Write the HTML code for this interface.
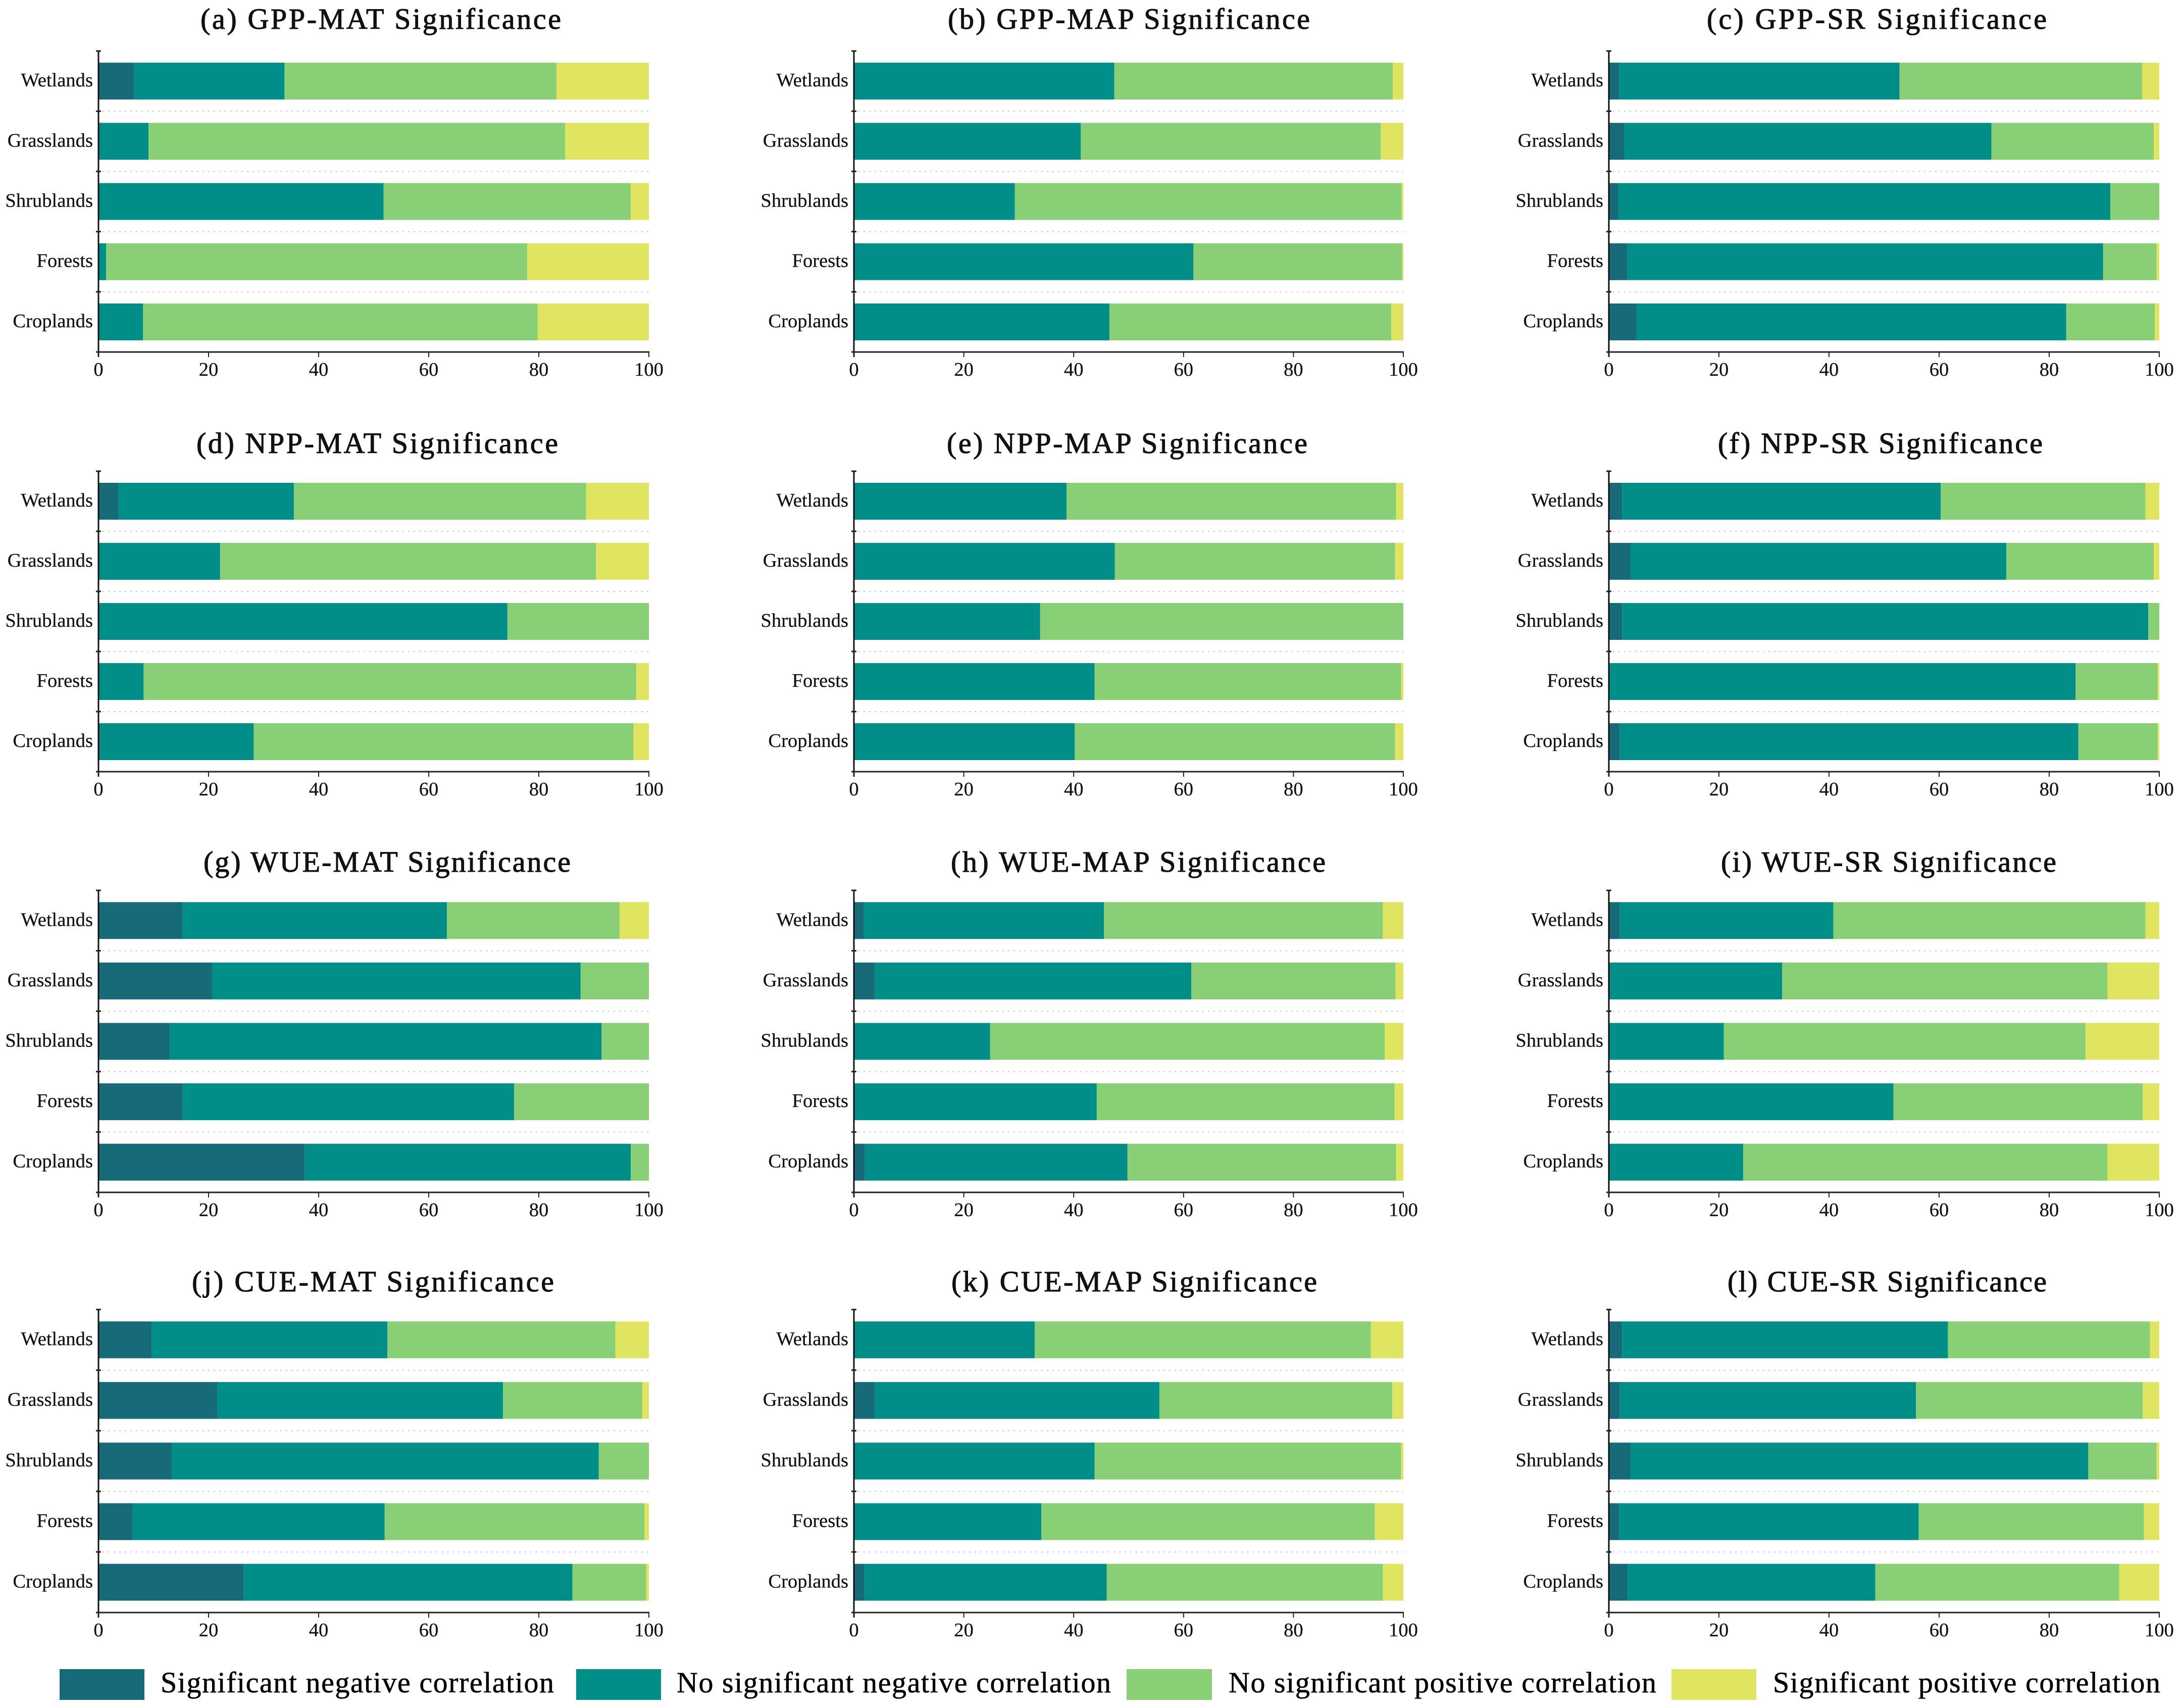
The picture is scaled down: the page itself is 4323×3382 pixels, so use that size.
<!DOCTYPE html>
<html lang="en">
<head>
<meta charset="utf-8">
<title>Significance of correlations by land cover</title>
<style>
html,body{margin:0;padding:0;background:#fff;}
svg{display:block;}
text{font-family:"Liberation Serif",serif;fill:#111;}
.title{font-size:58px;stroke:#111;stroke-width:1.1px;}
.tick{font-size:38.6px;stroke:#111;stroke-width:.25px;}
.legend-text{font-size:58px;fill:#000;stroke:#000;stroke-width:.6px;}
</style>
</head>
<body>
<svg id="figure" xmlns="http://www.w3.org/2000/svg" width="4323" height="3382" viewBox="0 0 4323 3382">
  <rect x="0" y="0" width="4323" height="3382" fill="#ffffff"/>
  <g id="panels"></g>
  <g>
    <g>
      <rect x="118" y="3305" width="168" height="61" fill="#176a78"/>
      <text class="legend-text" x="318" y="3351" textLength="779">Significant negative correlation</text>
    </g>
    <g>
      <rect x="1141" y="3305" width="168" height="61" fill="#028e88"/>
      <text class="legend-text" x="1340" y="3351" textLength="860">No significant negative correlation</text>
    </g>
    <g>
      <rect x="2231" y="3305" width="169" height="61" fill="#89cf75"/>
      <text class="legend-text" x="2433" y="3351" textLength="847">No significant positive correlation</text>
    </g>
    <g>
      <rect x="3310" y="3305" width="168" height="61" fill="#dfe560"/>
      <text class="legend-text" x="3511" y="3351" textLength="767">Significant positive correlation</text>
    </g>
  </g>
</svg>
<script>
// Data: order of categories is top to bottom in each panel
const categories = ["Wetlands", "Grasslands", "Shrublands", "Forests", "Croplands"];
const xTickLabels = [0, 20, 40, 60, 80, 100];
const panelTitles = [
  "(a) GPP-MAT Significance", "(b) GPP-MAP Significance", "(c) GPP-SR Significance",
  "(d) NPP-MAT Significance", "(e) NPP-MAP Significance", "(f) NPP-SR Significance",
  "(g) WUE-MAT Significance", "(h) WUE-MAP Significance", "(i) WUE-SR Significance",
  "(j) CUE-MAT Significance", "(k) CUE-MAP Significance", "(l) CUE-SR Significance"
];
const significantNegative = [
  [6.5,0,0,0,0], [0,0,0,0,0], [1.9,2.8,1.7,3.3,5.0],
  [3.7,0,0,0,0.3], [0,0.3,0,0,0], [2.4,3.9,2.4,0,2.0],
  [15.3,20.6,13.0,15.3,37.5], [1.8,3.8,0,0,2.0], [2.0,0.3,0,0,0],
  [9.7,21.6,13.3,6.2,26.4], [0,3.8,0,0,1.9], [2.4,2.0,3.9,1.9,3.4]
];
const noSignificantNegative = [
  [27.3,9.1,51.8,1.4,8.1], [47.4,41.3,29.3,61.8,46.5], [50.9,66.7,89.4,86.5,78.1],
  [31.8,22.1,74.3,8.2,27.9], [38.7,47.2,33.9,43.8,40.2], [57.9,68.3,95.6,84.8,83.3],
  [48.0,67.0,78.4,60.2,59.2], [43.7,57.6,24.8,44.2,47.8], [38.8,31.2,20.9,51.7,24.4],
  [42.8,51.9,77.6,45.8,59.7], [32.9,51.8,43.8,34.1,44.1], [59.2,53.8,83.2,54.4,45.0]
];
const noSignificantPositive = [
  [49.4,75.7,44.9,76.5,71.7], [50.7,54.6,70.4,38.0,51.3], [44.1,29.5,8.9,9.7,16.1],
  [53.1,68.3,25.7,89.5,69.0], [60.0,51.0,66.1,55.8,58.3], [37.2,26.8,2.0,14.9,14.4],
  [31.4,12.4,8.6,24.5,3.3], [50.8,37.2,71.8,54.2,48.9], [56.7,59.1,65.7,45.3,66.2],
  [41.4,25.3,9.1,47.2,13.4], [61.2,42.4,55.8,60.7,50.3], [36.7,41.2,12.4,40.9,44.3]
];
const significantPositive = [
  [16.8,15.2,3.3,22.1,20.2], [1.9,4.1,0.3,0.2,2.2], [3.1,1.0,0,0.5,0.8],
  [11.4,9.6,0,2.3,2.8], [1.3,1.5,0,0.4,1.5], [2.5,1.0,0,0.3,0.3],
  [5.3,0,0,0,0], [3.7,1.4,3.4,1.6,1.3], [2.5,9.4,13.4,3.0,9.4],
  [6.1,1.2,0,0.8,0.5], [5.9,2.0,0.4,5.2,3.7], [1.7,3.0,0.5,2.8,7.3]
];

// Layout (separate from the data)
const NS = "http://www.w3.org/2000/svg";
const layoutCols = [{l:195,r:1285},{l:1691,r:2779},{l:3186,r:4276}];
const layoutRows = [{t:101,b:697,title:57},{t:933,b:1528,title:897},{t:1763,b:2361,title:1726},{t:2593,b:3193,title:2557}];
const titleBoxes = [
  [397,1111],[1877,2594],[3380,4053],
  [389,1105],[1875,2589],[3402,4045],
  [403,1130],[1883,2625],[3408,4072],
  [380,1097],[1884,2608],[3421,4053]
];
const seriesColors = ["#176a78","#028e88","#89cf75","#dfe560"];
const seriesNames = ["significant-negative","no-significant-negative","no-significant-positive","significant-positive"];
const seriesData = [significantNegative, noSignificantNegative, noSignificantPositive, significantPositive];
const BAR_H = 73;

function mk(parent, tag, attrs, text) {
  const el = document.createElementNS(NS, tag);
  for (const k in attrs) el.setAttribute(k, attrs[k]);
  if (text !== undefined) el.textContent = text;
  parent.appendChild(el);
  return el;
}

const root = document.getElementById("panels");

panelTitles.forEach(function (title, p) {
  const col = layoutCols[p % 3];
  const row = layoutRows[Math.floor(p / 3)];
  const scaleX = function (v) { return col.l + (v / 100) * (col.r - col.l); };
  const band = (row.b - row.t) / categories.length;
  const scaleY = function (i) { return row.t + band * (i + 0.5); };

  const g = mk(root, "g", {});
  
  

  const box = titleBoxes[p];
  const t = mk(g, "text", {"class":"title", x:box[0], y:row.title, textLength:box[1]-box[0]}, title);
  
  

  // dotted separators
  for (let i = 1; i < categories.length; i++) {
    const y = row.t + band * i;
    const sep = mk(g, "line", {x1:col.l+8, x2:col.r, y1:y, y2:y, stroke:"#c9c9c9", "stroke-width":2, "stroke-dasharray":"3 8"});
    
    
  }

  // stacked bars
  categories.forEach(function (cat, i) {
    let acc = 0;
    const cy = scaleY(i);
    seriesData.forEach(function (series, s) {
      const v = series[p][i];
      if (v > 0) {
        const bar = mk(g, "rect", {x:scaleX(acc), y:cy-BAR_H/2, width:scaleX(acc+v)-scaleX(acc), height:BAR_H, fill:seriesColors[s]});
        
        
      }
      acc += v;
    });
    const lab = mk(g, "text", {"class":"tick", x:col.l-11, y:cy+10.5, "text-anchor":"end"}, cat);
    
    
  });

  // y axis and category ticks
  const yAxis = mk(g, "line", {x1:col.l, x2:col.l, y1:row.t, y2:row.b+10, stroke:"#111", "stroke-width":3});
  
  
  for (let i = 0; i <= categories.length; i++) {
    const y = row.t + band * i;
    const tk = mk(g, "line", {x1:col.l-5, x2:col.l+5, y1:y, y2:y, stroke:"#222", "stroke-width":3});
    
    
  }

  // x axis
  const xAxis = mk(g, "line", {x1:col.l-5, x2:col.r+1, y1:row.b, y2:row.b, stroke:"#222", "stroke-width":3});
  
  
  xTickLabels.forEach(function (v) {
    const x = scaleX(v);
    const tk = mk(g, "line", {x1:x, x2:x, y1:row.b, y2:row.b+10, stroke:"#222", "stroke-width":2});
    
    
    const lab = mk(g, "text", {"class":"tick", x:x, y:row.b+47, "text-anchor":"middle"}, String(v));
    
    
  });
});
</script>
</body>
</html>
